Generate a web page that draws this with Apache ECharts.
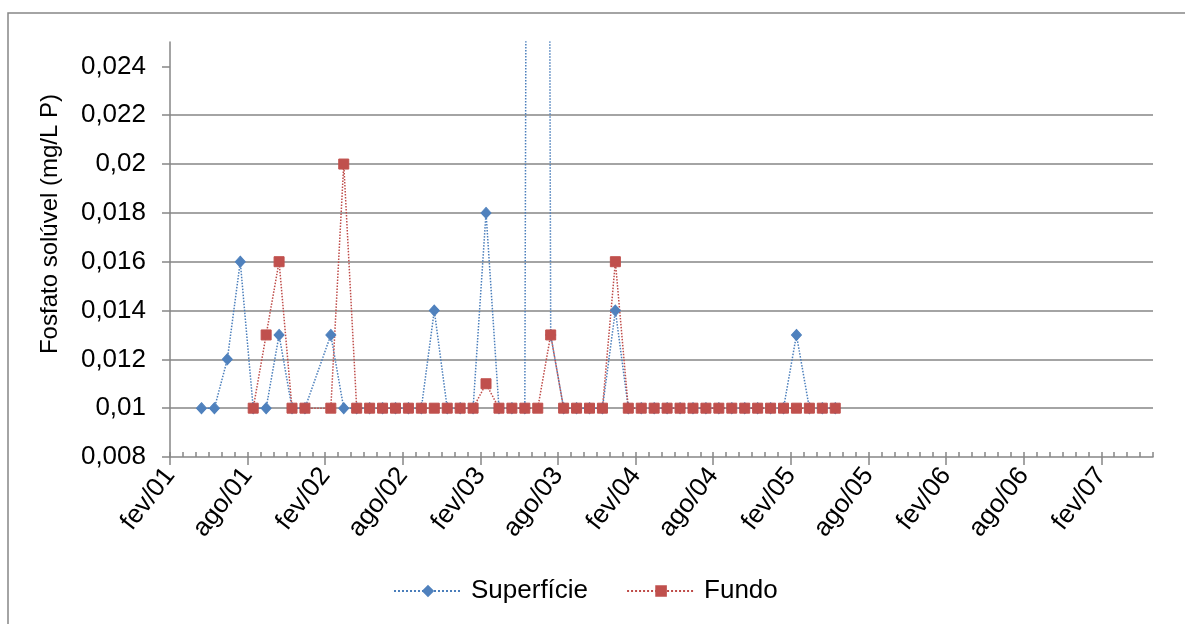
<!DOCTYPE html>
<html>
<head>
<meta charset="utf-8">
<script src="https://cdn.jsdelivr.net/npm/echarts@6/dist/echarts.min.js"></script>
<style>html,body{margin:0;padding:0;background:#fff}#c{width:1185px;height:624px}</style>
</head>
<body>
<div id="c"></div>
<script>
// Sampling dates (one sample per month; Jan 2002 missing)
const sampleDates = [
  '2001-04-14','2001-05-14','2001-06-14','2001-07-14','2001-08-14','2001-09-14','2001-10-14','2001-11-14','2001-12-14',
  '2002-02-14','2002-03-14','2002-04-14','2002-05-14','2002-06-14','2002-07-14','2002-08-14','2002-09-14','2002-10-14','2002-11-14','2002-12-14',
  '2003-01-14','2003-02-14','2003-03-14','2003-04-14','2003-05-14','2003-06-14','2003-07-14','2003-08-14','2003-09-14','2003-10-14','2003-11-14','2003-12-14',
  '2004-01-14','2004-02-14','2004-03-14','2004-04-14','2004-05-14','2004-06-14','2004-07-14','2004-08-14','2004-09-14','2004-10-14','2004-11-14','2004-12-14',
  '2005-01-14','2005-02-14','2005-03-14','2005-04-14','2005-05-14'
];
const superficie = [
  0.010,0.010,0.012,0.016,0.010,0.010,0.013,0.010,0.010,
  0.013,0.010,0.010,0.010,0.010,0.010,0.010,0.010,0.014,0.010,0.010,
  0.010,0.018,0.010,0.010,0.010,0.200,0.013,0.010,0.010,0.010,0.010,0.014,
  0.010,0.010,0.010,0.010,0.010,0.010,0.010,0.010,0.010,0.010,0.010,0.010,
  0.010,0.013,0.010,0.010,0.010
];
const fundo = [
  null,null,null,null,0.010,0.013,0.016,0.010,0.010,
  0.010,0.020,0.010,0.010,0.010,0.010,0.010,0.010,0.010,0.010,0.010,
  0.010,0.011,0.010,0.010,0.010,0.010,0.013,0.010,0.010,0.010,0.010,0.016,
  0.010,0.010,0.010,0.010,0.010,0.010,0.010,0.010,0.010,0.010,0.010,0.010,
  0.010,0.010,0.010,0.010,0.010
];
const seriesNames = ['Superfície','Fundo'];
const xTickLabels = ['fev/01','ago/01','fev/02','ago/02','fev/03','ago/03','fev/04','ago/04','fev/05','ago/05','fev/06','ago/06','fev/07'];
const yTicks = [0.008,0.010,0.012,0.014,0.016,0.018,0.020,0.022,0.024];
const yTitle = 'Fosfato solúvel (mg/L P)';

// months elapsed since 2001-02-01
function toMonths(s){
  const p = s.split('-').map(Number);
  return (p[0]-2001)*12 + (p[1]-2) + (p[2]-1)/30;
}
const xMajor = xTickLabels.map((_, i) => i*6);

const FONT = "'Liberation Sans', Arial, sans-serif";
const GRAY = '#868686';
const BLUE = '#4A7EBB';
const RED = '#BE4B48';

const chart = echarts.init(document.getElementById('c'), null, {renderer:'canvas'});
chart.setOption({
  animation: false,
  backgroundColor: '#fff',
  textStyle: {fontFamily: FONT},
  grid: {left: 170, top: 42, right: 32, bottom: 167, containLabel: false},
  graphic: [
    {type:'rect', shape:{x:8, y:13, width:1200, height:700}, style:{fill:'none', stroke:GRAY, lineWidth:1.5}, silent:true, z:-10},
    {type:'text', x:50, y:224, rotation:Math.PI/2, style:{text:yTitle, font:"24px " + FONT, fill:'#000', align:'center', verticalAlign:'middle'}}
  ],
  legend: {
    left: 393, top: 578, padding: 0,
    itemWidth: 68, itemHeight: 12, itemGap: 38,
    textStyle: {fontSize: 26, color:'#000', fontFamily: FONT, padding:[0,0,0,4]},
    data: seriesNames
  },
  xAxis: [
    {
      type:'value', min:0, max:76, position:'bottom',
      axisLine:{show:true, lineStyle:{color:GRAY, width:1.5}},
      axisTick:{show:true, inside:false, length:8, customValues:xMajor, lineStyle:{color:GRAY, width:1.5}},
      axisLabel:{show:true, customValues:xMajor, rotate:52, margin:14, fontSize:26, color:'#000', fontFamily:FONT,
        formatter: v => xTickLabels[Math.round(v/6)] || ''},
      splitLine:{show:false}
    },
    {
      type:'value', min:0, max:76, interval:1, position:'bottom',
      axisLine:{show:false},
      axisTick:{show:true, inside:true, length:5, lineStyle:{color:GRAY, width:1.5}},
      axisLabel:{show:false},
      splitLine:{show:false}
    }
  ],
  yAxis: {
    type:'value', min:0.008, max:0.025, interval:0.002,
    axisLine:{show:true, lineStyle:{color:GRAY, width:1.5}},
    axisTick:{show:true, inside:false, length:8, customValues:yTicks, lineStyle:{color:GRAY, width:1.5}},
    axisLabel:{customValues:yTicks, margin:24, fontSize:26, color:'#000', fontFamily:FONT,
      formatter: v => String(+v.toFixed(3)).replace('.', ',')},
    splitLine:{show:true, showMaxLine:false, showMinLine:false, lineStyle:{color:GRAY, width:1.5}}
  },
  series: [
    {
      name: seriesNames[0], type:'line', xAxisIndex:0, clip:true,
      data: sampleDates.map((d,i) => [toMonths(d), superficie[i]]),
      symbol:'diamond', symbolSize:[10,11],
      lineStyle:{color:BLUE, width:1.5, type:'dotted'},
      itemStyle:{color:'#4F81BD', borderColor:'#4F81BD', borderWidth:1}
    },
    {
      name: seriesNames[1], type:'line', xAxisIndex:0, clip:true,
      data: sampleDates.map((d,i) => [toMonths(d), fundo[i]]),
      symbol:'rect', symbolSize:10,
      lineStyle:{color:RED, width:1.5, type:'dotted'},
      itemStyle:{color:'#C0504D', borderColor:'#C0504D', borderWidth:1}
    }
  ]
});
</script>
</body>
</html>
